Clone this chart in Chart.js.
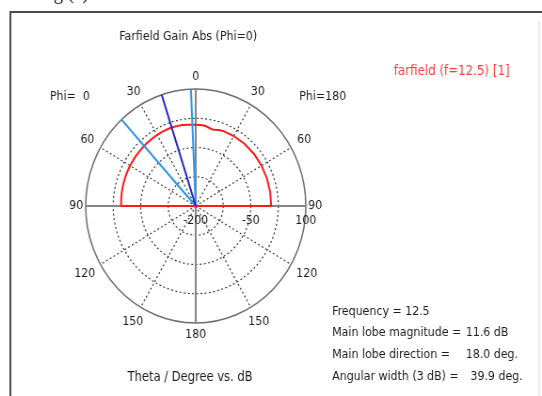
<!DOCTYPE html>
<html>
<head>
<meta charset="utf-8">
<script src="https://cdn.jsdelivr.net/npm/chart.js@4.4.1/dist/chart.umd.min.js"></script>
<style>
  html, body { margin: 0; padding: 0; background: #fff; overflow: hidden; }
  #wrap { position: absolute; left: 0; top: 0; width: 576px; height: 396px;
          transform: scaleX(0.941); transform-origin: 0 0; }
</style>
</head>
<body>
<div id="wrap"><canvas id="c"></canvas></div>
<script>
// Farfield gain (dB) versus theta (deg), Phi = 0 half-plane
const thetaPhi0 = [0, 2.5, 5, 10, 15, 18, 20, 25, 30, 35, 40, 42.4, 45, 50, 55, 60, 65, 70, 75, 80, 85, 90, 100, 120, 150, 180];
const gainPhi0  = [8.2, 8.6, 9.4, 10.6, 11.4, 11.6, 11.5, 11.0, 10.4, 9.7, 9.0, 8.6, 8.2, 7.7, 7.2, 6.7, 6.2, 5.7, 5.2, 4.6, 4.0, 3.4, -200, -200, -200, -200];
// Phi = 180 half-plane
const thetaPhi180 = [0, 5, 8, 11, 13, 15, 18, 22, 30, 40, 50, 60, 70, 80, 90, 100, 120, 150, 180];
const gainPhi180  = [8.2, 8.0, 6.5, 3.0, 1.5, 2.5, 5.0, 6.5, 7.2, 7.5, 7.4, 7.0, 6.5, 6.0, 5.5, -200, -200, -200, -200];

// Main lobe and 3 dB beam edges (Phi = 0 side)
const frequency = 12.5;
const mainLobeMag = 11.6;
const mainLobeDir = 18.0;
const beamEdges = [2.5, 42.4];
const angularWidth = 39.9;

// Axes
const rMin = -200, rMax = 100, rStep = 75;
const radialTickLabels = [-200, -50, 100];
const thetaTickLabels = [0, 30, 60, 90, 120, 150, 180];

const STEPS_PER_DEG = 10;
const N = 360 * STEPS_PER_DEG;
const FONT = '"DejaVu Sans Condensed", "DejaVu Sans", sans-serif';
const TEXT = '#1c1c1c';

// index on the clockwise angular axis: Phi=180 to the right, Phi=0 to the left
const idxRight = t => Math.round(t * STEPS_PER_DEG) % N;
const idxLeft = t => (N - Math.round(t * STEPS_PER_DEG)) % N;

const angleLabels = Array.from({ length: N }, (_, i) => i / STEPS_PER_DEG);

const gainData = new Array(N).fill(null);
thetaPhi180.forEach((t, k) => { gainData[idxRight(t)] = gainPhi180[k]; });
thetaPhi0.forEach((t, k) => { gainData[idxLeft(t)] = gainPhi0[k]; });

// radial marker lines: centre -> outer ring
function markerData(thetas) {
  const d = new Array(N).fill(null);
  thetas.forEach(t => {
    const i = idxLeft(t);
    d[(i + 1) % N] = rMin;
    d[i] = rMax;
  });
  return d;
}

const majorIdx = new Set([0, 90, 180, 270].map(a => a * STEPS_PER_DEG));

function setFont(ctx, px) {
  ctx.font = px + 'px ' + FONT;
  if ('fontStretch' in ctx) ctx.fontStretch = 'condensed';
}

const textPlugin = {
  id: 'farfieldText',
  beforeDraw(chart) {
    const ctx = chart.ctx;
    ctx.save();
    ctx.fillStyle = '#fff';
    ctx.fillRect(0, 0, chart.width, chart.height);
    // frame
    ctx.strokeStyle = '#4a4a4a';
    ctx.lineWidth = 2;
    ctx.beginPath();
    ctx.moveTo(11, 396); ctx.lineTo(11, 12); ctx.lineTo(576, 12);
    ctx.stroke();
    ctx.strokeStyle = '#e2e2e2';
    ctx.lineWidth = 1.5;
    ctx.beginPath();
    ctx.moveTo(573, 21); ctx.lineTo(573, 396);
    ctx.stroke();
    // caption above the frame
    ctx.fillStyle = '#111';
    ctx.font = '20px "Liberation Serif", serif';
    ctx.textBaseline = 'alphabetic';
    ctx.textAlign = 'left';
    ctx.fillText('g (a)', 57, -1);
    ctx.restore();
  },
  afterDraw(chart) {
    const ctx = chart.ctx;
    const s = chart.scales.r;
    ctx.save();
    ctx.fillStyle = TEXT;
    setFont(ctx, 13);
    ctx.textBaseline = 'middle';

    // theta labels around the ring
    const R = s.drawingArea;
    const pts = [];
    thetaTickLabels.forEach(t => {
      pts.push(idxRight(t));
      if (t !== 0 && t !== 180) pts.push(idxLeft(t));
    });
    ctx.textAlign = 'center';
    pts.forEach(i => {
      const deg = angleLabels[i];
      const theta = deg <= 180 ? deg : 360 - deg;
      const txt = String(Math.round(theta));
      const a = deg * Math.PI / 180;
      const hw = ctx.measureText(txt).width / 2;
      const pad = theta === 90 ? 2.5 : 7;
      const d = R + pad + hw * Math.abs(Math.sin(a)) + 5 * Math.abs(Math.cos(a));
      const p = s.getPointPosition(i, d);
      ctx.fillText(txt, p.x, p.y);
    });

    // radial (dB) labels along the right horizontal axis
    radialTickLabels.forEach(v => {
      const x = s.xCenter + s.getDistanceFromCenterForValue(v);
      ctx.fillText(String(v), x, s.yCenter + 15);
    });

    ctx.fillText('Farfield Gain Abs (Phi=0)', 200, 37);
    setFont(ctx, 13.6);
    ctx.fillText('Theta / Degree vs. dB', 202, 377);
    setFont(ctx, 13);
    ctx.textAlign = 'left';
    ctx.fillText('Phi=  0', 53, 97);
    ctx.fillText('Phi=180', 318, 97);

    ctx.fillText('Frequency = ' + frequency, 353, 312);
    ctx.fillText('Main lobe magnitude =', 353, 333);
    ctx.fillText(mainLobeMag.toFixed(1) + ' dB', 495, 333);
    ctx.fillText('Main lobe direction =', 353, 355);
    ctx.fillText(mainLobeDir.toFixed(1) + ' deg.', 495, 355);
    ctx.fillText('Angular width (3 dB) =', 353, 377);
    ctx.fillText(angularWidth.toFixed(1) + ' deg.', 500, 377);

    ctx.fillStyle = '#ff3c3c';
    ctx.textAlign = 'center';
    setFont(ctx, 14);
    ctx.fillText('farfield (f=12.5) [1]', 480, 71);
    ctx.restore();
  }
};

new Chart(document.getElementById('c'), {
  type: 'radar',
  data: {
    labels: angleLabels,
    datasets: [
      { label: 'main lobe', data: markerData([mainLobeDir]), borderColor: '#2626c8', borderWidth: 2, spanGaps: false },
      { label: '3 dB', data: markerData(beamEdges), borderColor: '#2a95f0', borderWidth: 2, spanGaps: false },
      { label: 'farfield (f=12.5) [1]', data: gainData, borderColor: '#ff1a1a', borderWidth: 2, spanGaps: true }
    ]
  },
  options: {
    responsive: true,
    maintainAspectRatio: false,
    animation: false,
    events: [],
    layout: { padding: { left: 91, right: 250, top: 89, bottom: 72 } },
    elements: { point: { radius: 0, hoverRadius: 0 }, line: { tension: 0, fill: false } },
    plugins: { legend: { display: false }, tooltip: { enabled: false }, title: { display: false } },
    scales: {
      r: {
        min: rMin, max: rMax,
        startAngle: 0,
        ticks: { display: false, stepSize: rStep },
        pointLabels: { display: false },
        grid: {
          circular: true,
          color: c => c.index === 0 ? 'rgba(0,0,0,0)' : (c.index === 4 ? '#6e6e6e' : '#3c3c3c'),
          lineWidth: c => c.index === 4 ? 1.5 : 1.2
        },
        border: { dash: c => c.index === 4 ? [] : [2, 2.5] },
        angleLines: {
          color: c => majorIdx.has(c.index) ? '#858585' : '#3c3c3c',
          lineWidth: c => majorIdx.has(c.index) ? 2 : (c.index % (30 * STEPS_PER_DEG) === 0 ? 1.2 : 0),
          borderDash: c => majorIdx.has(c.index) ? [] : [2, 2.5]
        }
      }
    }
  },
  plugins: [textPlugin]
});
</script>
</body>
</html>
